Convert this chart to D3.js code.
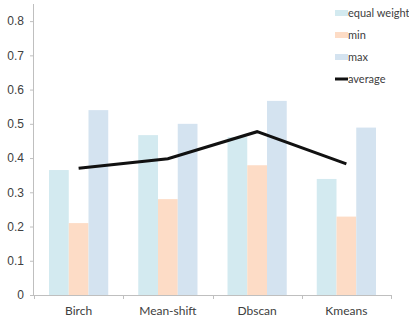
<!DOCTYPE html>
<html>
<head>
<meta charset="utf-8">
<script src="https://cdn.jsdelivr.net/npm/d3@7"></script>
<style>
  html, body { margin: 0; padding: 0; background: #fff; }
  svg { display: block; font-family: Lato, "Open Sans", sans-serif; }
</style>
</head>
<body>
<svg id="chart" width="409" height="321"></svg>
<script>
const categories = ["Birch", "Mean-shift", "Dbscan", "Kmeans"];
const equalWeight = [0.365, 0.467, 0.461, 0.339];
const minValues = [0.21, 0.28, 0.379, 0.229];
const maxValues = [0.54, 0.50, 0.567, 0.489];
const averageValues = [0.37, 0.398, 0.477, 0.383];
const yTicks = [0, 0.1, 0.2, 0.3, 0.4, 0.5, 0.6, 0.7, 0.8];

const barSeries = [
  { name: "equal weight", values: equalWeight, color: "#d3eaf0" },
  { name: "min", values: minValues, color: "#fddcc6" },
  { name: "max", values: maxValues, color: "#d4e3f0" }
];

const svg = d3.select("#chart");
const plot = { left: 34, right: 391, top: 4, bottom: 295 };
const fontSize = 12;
const legendFontSize = 11;

const x = d3.scaleBand().domain(categories).range([plot.left, plot.right]).paddingInner(0).paddingOuter(0);
const inner = d3.scaleBand().domain(barSeries.map(s => s.name))
  .range([0, x.bandwidth()]).paddingInner(0).paddingOuter(0.76);
const y = d3.scaleLinear().domain([0, 0.85]).range([plot.bottom, plot.top]);

const textColor = "#404040";
const axisColor = "#bfbfbf";

// bars
barSeries.forEach(s => {
  svg.append("g").selectAll("rect")
    .data(categories.map((c, i) => ({ c, v: s.values[i] })))
    .join("rect")
    .attr("x", d => x(d.c) + inner(s.name))
    .attr("width", inner.bandwidth())
    .attr("y", d => y(d.v))
    .attr("height", d => y(0) - y(d.v))
    .attr("fill", s.color);
});

// y axis
const yAxis = svg.append("g").attr("transform", `translate(${plot.left},0)`)
  .call(d3.axisLeft(y).tickValues(yTicks).tickSize(4).tickPadding(6)
    .tickFormat(d => d === 0 ? "0" : d3.format(".1f")(d)));
yAxis.select(".domain").attr("stroke", axisColor).attr("d", `M-0.5,${plot.top}V${plot.bottom}`);
yAxis.selectAll(".tick line").attr("stroke", axisColor);
yAxis.selectAll(".tick text").attr("fill", textColor).attr("font-size", fontSize);

// x axis with ticks at category boundaries
const xAxis = svg.append("g").attr("transform", `translate(0,${plot.bottom})`);
xAxis.append("line").attr("x1", plot.left).attr("x2", plot.right).attr("y1", 0.5).attr("y2", 0.5)
  .attr("stroke", axisColor);
const boundaries = categories.map(c => x(c)).concat([x(categories[categories.length - 1]) + x.bandwidth()]);
xAxis.selectAll("line.tk").data(boundaries).join("line").attr("class", "tk")
  .attr("x1", d => Math.round(d) + 0.5).attr("x2", d => Math.round(d) + 0.5)
  .attr("y1", 0).attr("y2", 4).attr("stroke", axisColor);
xAxis.selectAll("text").data(categories).join("text")
  .attr("x", d => x(d) + x.bandwidth() / 2).attr("y", 20)
  .attr("text-anchor", "middle").attr("fill", textColor).attr("font-size", fontSize)
  .text(d => d);

// average line
const line = d3.line().x((d, i) => x(categories[i]) + x.bandwidth() / 2).y(d => y(d));
svg.append("path").datum(averageValues).attr("d", line)
  .attr("fill", "none").attr("stroke", "#111").attr("stroke-width", 3);

// legend
const legendItems = barSeries.map(s => ({ name: s.name, color: s.color, type: "rect" }))
  .concat([{ name: "average", color: "#111", type: "line" }]);
const legend = svg.append("g");
legendItems.forEach((d, i) => {
  const cy = 13 + i * 22;
  if (d.type === "rect") {
    legend.append("rect").attr("x", 335).attr("y", cy - 3).attr("width", 13).attr("height", 6).attr("fill", d.color);
  } else {
    legend.append("line").attr("x1", 335).attr("x2", 348).attr("y1", cy).attr("y2", cy)
      .attr("stroke", d.color).attr("stroke-width", 3);
  }
  legend.append("text").attr("x", 348).attr("y", cy).attr("dy", "0.35em")
    .attr("fill", textColor).attr("font-size", legendFontSize).text(d.name);
});
</script>
</body>
</html>
